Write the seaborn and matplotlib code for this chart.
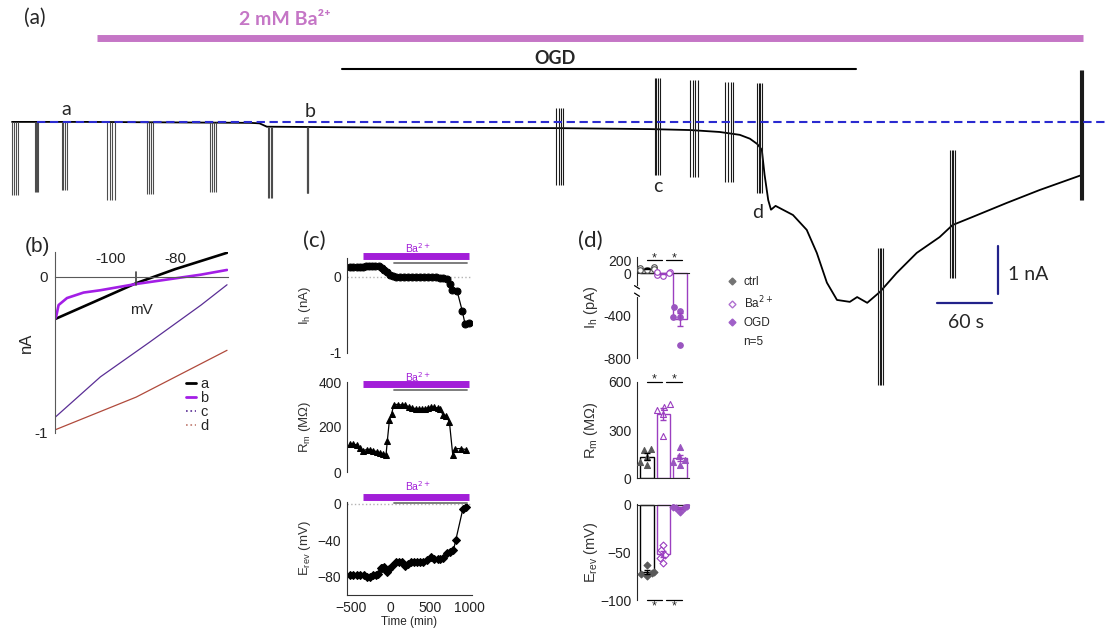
import numpy as np
import pandas as pd
import matplotlib
matplotlib.use("Agg")
import matplotlib.pyplot as plt
from matplotlib.lines import Line2D
import seaborn as sns

sns.set_style("white")
plt.rcParams['font.family'] = ['Liberation Sans', 'DejaVu Sans']

W, H = 1105, 633
PINK = '#c576c6'
VIOLET = '#a21ed8'
PURPLE = '#9b3fc0'
NAVY = '#22228a'
CAL = ['Lato', 'DejaVu Sans']

# ---------------- (a) holding current trace: time (s), current (nA) ----------------
trace_t = [0, 80, 260, 270, 278, 423, 598, 696, 740, 772, 794, 805, 813, 818, 821, 825, 828,
           833, 841, 852, 867, 878, 889, 900, 914, 922, 933, 947, 965, 987, 1012, 1026, 1048,
           1085, 1121, 1168]
trace_i = [0, 0, -0.02, -0.03, -0.10, -0.12, -0.13, -0.15, -0.17, -0.21, -0.27, -0.35, -0.46,
           -0.58, -1.10, -1.63, -1.83, -1.75, -1.83, -1.94, -2.25, -2.73, -3.35, -3.71, -3.75,
           -3.65, -3.77, -3.54, -3.15, -2.73, -2.40, -2.15, -1.98, -1.69, -1.42, -1.10]
# voltage-ramp sweeps: start / end time (s), upper / lower current (nA)
sweep_t0 = [0, 25, 54, 104, 147, 216, 279, 322, 594, 701, 740, 778, 813, 945, 1023, 1165]
sweep_t1 = [7, 28, 60, 112, 154, 222, 284, 323, 601, 707, 748, 787, 818, 950, 1029, 1168]
sweep_top = [0, 0, 0, 0, 0, 0, -0.1, -0.1, 0.29, 0.92, 0.88, 0.83, 0.81, -2.63, -0.58, 1.08]
sweep_bot = [-1.52, -1.46, -1.42, -1.63, -1.50, -1.46, -1.58, -1.48, -1.31, -1.10, -1.15,
             -1.25, -1.48, -5.48, -3.25, -1.63]
trace_marks = ['a', 'b', 'c', 'd']
mark_t = [59, 325, 705, 813]
mark_i = [0.25, 0.21, -1.35, -1.88]

# ---------------- (b) I-V curves: mV, nA ----------------
iv_a_v = [-117, -105, -92, -80, -64]
iv_a_i = [-0.27, -0.16, -0.04, 0.05, 0.155]
iv_b_v = [-117, -116.6, -115.9, -113.3, -108.2, -103, -92, -82, -72, -64]
iv_b_i = [-0.27, -0.25, -0.18, -0.135, -0.10, -0.085, -0.045, -0.015, 0.015, 0.045]
iv_c_v = [-117, -103, -88, -72, -64]
iv_c_i = [-0.90, -0.64, -0.42, -0.18, -0.05]
iv_d_v = [-117, -92, -64]
iv_d_i = [-0.98, -0.77, -0.47]

# ---------------- (c) time course ----------------
ih_t = [-510, -470, -430, -390, -350, -310, -270, -230, -190, -150, -110, -75, -40, -5, 30,
        75, 125, 175, 225, 275, 325, 375, 425, 475, 525, 575, 625, 675, 720, 760, 790, 850,
        915, 950, 995]
ih_v = [0.13, 0.13, 0.13, 0.13, 0.135, 0.14, 0.145, 0.15, 0.15, 0.14, 0.12, 0.09, 0.06, 0.03,
        0.01, 0.0, 0.0, 0.0, 0.0, 0.0, 0.0, 0.0, -0.005, -0.005, -0.005, -0.005, -0.01, -0.01,
        -0.03, -0.09, -0.17, -0.19, -0.45, -0.62, -0.60]
rm_t = [-510, -470, -430, -390, -345, -300, -255, -215, -170, -130, -90, -55, -38, -12, 17,
        45, 100, 145, 190, 235, 280, 320, 360, 400, 440, 480, 520, 560, 600, 630, 666, 708,
        751, 793, 823, 895, 961]
rm_v = [125, 125, 120, 105, 95, 100, 100, 95, 90, 85, 80, 75, 140, 230, 260, 300, 300, 298,
        296, 290, 285, 282, 280, 280, 282, 285, 287, 287, 285, 282, 255, 250, 222, 77, 104,
        104, 100]
er_t = [-510, -470, -430, -386, -340, -300, -258, -215, -180, -152, -123, -100, -80, -46, -12,
        17, 72, 110, 144, 190, 230, 259, 300, 335, 380, 420, 462, 513, 556, 600, 632, 674, 717,
        759, 802, 831, 921, 963]
er_v = [-78, -78, -78, -78, -78, -80, -80, -78, -78, -77, -70, -70, -69, -75, -71, -68, -64,
        -64, -64, -68, -66, -64, -64, -64, -64, -64, -62, -58, -60, -60, -60, -59, -54, -53,
        -51, -40, -6, -4]

# ---------------- (d) group data, n=5 ----------------
conds = ['ctrl', 'Ba2+', 'OGD']
ih_ctrl = [54, 97, 81, 65, 54]
ih_ba = [11, -16, -31, 0, 11]
ih_ogd = [-319, -353, -416, -416, -672]
rm_ctrl = [180, 175, 135, 100, 85]
rm_ba = [460, 445, 425, 400, 260]
rm_ogd = [195, 140, 115, 100, 85]
er_ctrl = [-63, -71, -72, -73, -75]
er_ba = [-42, -48, -53, -56, -61]
er_ogd = [-1, -2, -3, -3, -8]

fig = plt.figure(figsize=(W / 100, H / 100), dpi=100)


def px_axes(x0, y0, x1, y1):
    ax = fig.add_axes([x0 / W, 1 - y1 / H, (x1 - x0) / W, (y1 - y0) / H])
    ax.set_facecolor('none')
    return ax


# ================= (a) =================
ax_a = fig.add_axes([0, 0, 1, 1])
ax_a.set_facecolor('none')
sns.lineplot(x=trace_t, y=trace_i, color='black', lw=1.3, sort=False, ax=ax_a)
for k, (t0, t1, top, bot) in enumerate(zip(sweep_t0, sweep_t1, sweep_top, sweep_bot)):
    xs = np.linspace(t0, t1, 4)
    ax_a.vlines(xs, bot, top, color='0.3' if k < 8 else '0.1', lw=0.8)
ax_a.plot([27, 1200], [0, 0], ls=(0, (4, 2.2)), color='#2a2ad0', lw=1.5)
ax_a.plot([93, 1168], [1.75, 1.75], color=PINK, lw=5, solid_capstyle='butt')
ax_a.text(298, 2.13, '2 mM Ba²⁺', color=PINK, fontsize=14, fontweight='bold',
          ha='center', va='center', family=CAL)
ax_a.plot([360, 921], [1.10, 1.10], color='black', lw=1.5)
ax_a.text(592, 1.32, 'OGD', fontsize=13, fontweight='bold', ha='center', va='center', family=CAL)
for m, t, i in zip(trace_marks, mark_t, mark_i):
    ax_a.text(t, i, m, fontsize=14, ha='center', va='center', family=CAL)
# scale bars: 1 nA, 60 s
ax_a.plot([1076, 1076], [-2.58, -3.58], color=NAVY, lw=1.6)
ax_a.plot([1009, 1069], [-3.78, -3.78], color=NAVY, lw=1.6)
ax_a.text(1087, -3.19, '1 nA', fontsize=14, ha='left', va='center', family=CAL)
ax_a.text(1041, -4.18, '60 s', fontsize=14, ha='center', va='center', family=CAL)
ax_a.set_xlim(-13.1, 1192.4)
ax_a.set_ylim(-10.65, 2.54)
ax_a.set_axis_off()

fig.text(35 / W, 1 - 18 / H, '(a)', fontsize=15, ha='center', va='center', family=CAL)
fig.text(37 / W, 1 - 246 / H, '(b)', fontsize=15, ha='center', va='center')
fig.text(314 / W, 1 - 241 / H, '(c)', fontsize=16, ha='center', va='center', family=CAL)
fig.text(590 / W, 1 - 241 / H, '(d)', fontsize=16, ha='center', va='center', family=CAL)

# ================= (b) =================
ax_b = px_axes(55, 252, 228, 433)
sns.lineplot(x=iv_a_v, y=iv_a_i, color='black', lw=1.9, sort=False, ax=ax_b)
sns.lineplot(x=iv_b_v, y=iv_b_i, color='#a31ee6', lw=1.9, sort=False, ax=ax_b)
sns.lineplot(x=iv_c_v, y=iv_c_i, color='#5a2e95', lw=0.9, sort=False, ax=ax_b)
sns.lineplot(x=iv_d_v, y=iv_d_i, color='#b04a3c', lw=0.9, sort=False, ax=ax_b)
ax_b.set_xlim(-117, -63.7)
ax_b.set_ylim(-1.0, 0.16)
for s in ['top', 'right']:
    ax_b.spines[s].set_visible(False)
ax_b.spines['bottom'].set_position(('data', 0))
for s in ['bottom', 'left']:
    ax_b.spines[s].set_color('0.35')
ax_b.set_xticks([-100, -80])
ax_b.set_xticks(np.arange(-115, -64, 5), minor=True)
ax_b.tick_params(axis='x', which='both', direction='in', labelbottom=False, length=3,
                 color='0.35')
ax_b.plot([-92, -92], [-0.05, 0.03], color='0.25', lw=1.2)
for v in [-100, -80]:
    ax_b.text(v, 0.115, str(v), fontsize=11, ha='center', va='center', color='#222')
ax_b.set_yticks(np.arange(-1.0, 0.01, 0.2))
ax_b.set_yticklabels(['-1', '', '', '', '', '0'])
ax_b.tick_params(axis='y', length=4, labelsize=11, color='0.35', pad=1)
ax_b.text(-90.5, -0.21, 'mV', fontsize=11, ha='center', va='center')
ax_b.set_ylabel('nA', fontsize=12)
ax_b.yaxis.set_label_coords(-0.12, 0.5)
ax_b.set_xlabel('')
iv_handles = [Line2D([], [], color='black', lw=2),
              Line2D([], [], color='#a31ee6', lw=2),
              Line2D([], [], color='#5a2e95', lw=1.2, ls=':'),
              Line2D([], [], color='#c07a70', lw=1.2, ls=':')]
ax_b.legend(iv_handles, ['a', 'b', 'c', 'd'], loc='lower right', bbox_to_anchor=(0.93, -0.04),
            frameon=False, fontsize=10.5, handlelength=0.7, handletextpad=0.3,
            labelspacing=0.0, borderpad=0)

# ================= (c) =================
XL = (-551, 1038)


def ba_bars(ax, y_ba, y_ogd, y_txt):
    ax.plot([-351, 1000], [y_ba, y_ba], color=VIOLET, lw=5, solid_capstyle='butt', clip_on=False)
    ax.plot([46, 978], [y_ogd, y_ogd], color='0.45', lw=1.3, clip_on=False)
    ax.text(355, y_txt, 'Ba$^{2+}$', color=VIOLET, fontsize=7.5, ha='center', va='center')


c_axes = []
for box, t, v, mk, yl in [((347, 258, 472, 353), ih_t, ih_v, 'o', (-1, 0.25)),
                          ((347, 382, 472, 472), rm_t, rm_v, '^', (0, 400)),
                          ((347, 502, 472, 595), er_t, er_v, 'D', (-100, 2))]:
    ax = px_axes(*box)
    sns.lineplot(x=t, y=v, color='black', lw=0.9, marker=mk, markersize=5 if mk != 'D' else 4.3,
                 markeredgecolor='black', sort=False, ax=ax)
    ax.set_xlim(*XL)
    ax.set_ylim(*yl)
    for s in ['top', 'right']:
        ax.spines[s].set_visible(False)
    ax.spines['left'].set_color('0.2')
    ax.spines['bottom'].set_color('0.2')
    ax.tick_params(labelsize=10, length=3, colors='#222', pad=1)
    c_axes.append(ax)

c1, c2, c3 = c_axes
for ax in (c1, c2):
    ax.spines['bottom'].set_visible(False)
    ax.set_xticks([])
c1.axhline(0, color='0.7', ls=':', lw=1, zorder=0)
c3.axhline(0, color='0.7', ls=':', lw=1, zorder=0)
c1.set_yticks([-1, -0.5, 0])
c1.set_yticklabels(['-1', '', '0'])
c2.set_yticks([0, 200, 400])
c2.set_yticks([100, 300], minor=True)
c3.set_yticks([-80, -40, 0])
c3.set_yticks([-100, -60, -20], minor=True)
c3.set_xticks([-500, 0, 500, 1000])
c3.set_xticks(np.arange(-500, 1001, 100), minor=True)
for ax in c_axes:
    ax.tick_params(which='minor', length=2, color='0.2')
c3.set_xlabel('Time (min)', fontsize=8.5, labelpad=1)
ba_bars(c1, 0.276, 0.184, 0.38)
ba_bars(c2, 389, 364, 424)
ba_bars(c3, 7.7, 1.4, 19)
for ax, lab in [(c1, 'I$_\\mathregular{h}$ (nA)'), (c2, 'R$_\\mathregular{m}$ (MΩ)'),
                (c3, 'E$_\\mathregular{rev}$ (mV)')]:
    ax.set_ylabel(lab, fontsize=9.5, color='#333')
    ax.yaxis.set_label_coords(-0.27, 0.5)

# ================= (d) =================
COLS = {'ctrl': 'black', 'Ba2+': PURPLE, 'OGD': PURPLE}
UP = 0.58


def fwd(y):
    y = np.asarray(y, dtype=float)
    return np.where(y < 0, y, y * UP)


def inv(y):
    y = np.asarray(y, dtype=float)
    return np.where(y < 0, y, y / UP)


def group_panel(ax, groups, marker, faces, edges, msize):
    df = pd.DataFrame({'cond': np.repeat(conds, 5), 'val': np.concatenate(groups)})
    sns.barplot(data=df, x='cond', y='val', hue='cond', order=conds, palette=COLS, fill=False,
                errorbar=None, width=0.8, linewidth=1, legend=False, ax=ax)
    for k, c in enumerate(conds):
        sns.swarmplot(data=df[df['cond'] == c], x='cond', y='val', order=conds, marker=marker,
                      size=msize, color=faces[k], edgecolor=edges[k], linewidth=0.8, ax=ax)
    stats = df.groupby('cond', sort=False)['val'].agg(['mean', 'sem'])
    for k, c in enumerate(conds):
        ax.errorbar(k, stats.loc[c, 'mean'], yerr=stats.loc[c, 'sem'], color=COLS[c],
                    capsize=2.5, lw=1, capthick=1, zorder=5)
    ax.set_xlim(-0.6, 2.55)
    ax.set_xticks([])
    ax.set_xlabel('')
    for s in ['top', 'right']:
        ax.spines[s].set_visible(False)
    ax.tick_params(axis='y', labelsize=10, length=3, colors='#222', pad=1)
    ax.tick_params(axis='y', which='minor', length=2)


def sig(ax, y, above=True):
    for i, j, xa, xb in [(0, 1, 0.0, 0.9), (1, 2, 1.15, 2.1)]:
        ax.plot([xa, xb], [y, y], color='black', lw=0.9, clip_on=False)
        if above:
            ax.annotate('*', ((xa + xb) / 2, y), xytext=(0, -3), textcoords='offset points',
                        ha='center', va='bottom', fontsize=9, annotation_clip=False)
        else:
            ax.annotate('*', ((xa + xb) / 2, y), xytext=(0, 0), textcoords='offset points',
                        ha='center', va='top', fontsize=9, annotation_clip=False)


OGD_FILL = '#9a55c0'
d1 = px_axes(637, 256.7, 689, 358.3)
d1.set_yscale('function', functions=(fwd, inv))
group_panel(d1, [ih_ctrl, ih_ba, ih_ogd], 'o', ['white', 'white', OGD_FILL],
            ['0.3', PURPLE, OGD_FILL], 4)
d1.set_ylim(-800, 265)
d1.set_yticks([200, 0, -400, -800])
d1.set_yticks([-200, -600], minor=True)
d1.set_yticklabels(['200', '0', '-400', '-800'])
d1.spines['bottom'].set_position(('data', 0))
d1.plot([-0.6, -0.6], [-140, -205], color='white', lw=3, clip_on=False, zorder=6)
for yb in [-130, -200]:
    d1.plot([-0.75, -0.45], [yb + 12, yb - 18], color='black', lw=0.9, clip_on=False, zorder=7)
sig(d1, 214)

d2 = px_axes(637, 381.7, 689, 478.3)
group_panel(d2, [rm_ctrl, rm_ba, rm_ogd], '^', ['0.35', 'white', OGD_FILL],
            ['0.35', PURPLE, OGD_FILL], 4.3)
d2.set_ylim(0, 600)
d2.set_yticks([0, 300, 600])
d2.set_yticks([150, 450], minor=True)
sig(d2, 600)

d3 = px_axes(637, 504.3, 689, 600)
group_panel(d3, [er_ctrl, er_ba, er_ogd], 'D', ['0.35', 'white', OGD_FILL],
            ['0.35', PURPLE, OGD_FILL], 3.5)
d3.set_ylim(-100, 0.5)
d3.set_yticks([-100, -50, 0])
d3.set_yticks([-75, -25], minor=True)
d3.spines['bottom'].set_position(('data', 0))
sig(d3, -100, above=False)

for ax, lab in [(d1, 'I$_\\mathregular{h}$ (pA)'), (d2, 'R$_\\mathregular{m}$ (MΩ)'),
                (d3, 'E$_\\mathregular{rev}$ (mV)')]:
    ax.set_ylabel(lab, fontsize=10.5, color='#333')
    ax.yaxis.set_label_coords(-0.71, 0.5)

leg_handles = [Line2D([], [], ls='', marker='D', ms=3.5, color='0.45'),
               Line2D([], [], ls='', marker='D', ms=3.5, mfc='white', mec='#b070d0'),
               Line2D([], [], ls='', marker='D', ms=3.5, color='#a060c8'),
               Line2D([], [], ls='', marker='')]
fig.legend(leg_handles, ['ctrl', 'Ba$^{2+}$', 'OGD', 'n=5'], loc='upper left',
           bbox_to_anchor=(720 / W, 1 - 270 / H), frameon=False, fontsize=8.5,
           labelspacing=0.55, handlelength=1, handletextpad=0.5, borderpad=0)

fig.savefig('out.png', dpi=100)
